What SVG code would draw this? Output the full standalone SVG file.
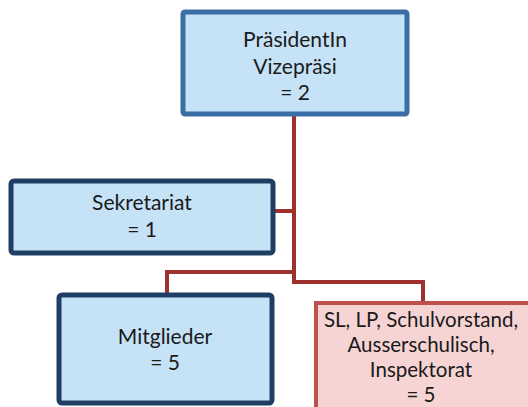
<svg xmlns="http://www.w3.org/2000/svg" width="528" height="407" viewBox="0 0 528 407">
<style>
.blue{fill:#c6e2f6;stroke:#1e3f63;stroke-width:5}
.top{fill:#c6e2f6;stroke:#3a6ea5;stroke-width:5}
.red{fill:#f6d4d4;stroke:#c0504d;stroke-width:4}
.t{font-family:Lato,"Open Sans","DejaVu Sans",sans-serif;font-size:21px;fill:#1a1a1a;text-anchor:middle}
.s{font-size:20.5px}
.c{fill:none;stroke:#a0302e;stroke-width:4}
</style>
<rect width="528" height="407" fill="#ffffff"/>
<g id="connectors">
<path class="c" d="M294 116 V282 H423 V302"/>
<path class="c" d="M275 211 H294"/>
<path class="c" d="M294 272 H167 V293"/>
</g>
<g id="praesident">
<rect class="top" x="183" y="12" width="224" height="102" rx="2"/>
<text class="t" x="295" y="47">PräsidentIn</text>
<text class="t" x="295" y="74">Vizepräsi</text>
<text class="t" x="295" y="100">= 2</text>
</g>
<g id="sekretariat">
<rect class="blue" x="11" y="181" width="262" height="72" rx="3"/>
<text class="t" x="142" y="210">Sekretariat</text>
<text class="t" x="142" y="237">= 1</text>
</g>
<g id="mitglieder">
<rect class="blue" x="59" y="295" width="213" height="108" rx="3"/>
<text class="t" x="165" y="344">Mitglieder</text>
<text class="t" x="165" y="370">= 5</text>
</g>
<g id="sl">
<rect class="red" x="316" y="303" width="230" height="120"/>
<text class="t s" x="421" y="327">SL, LP, Schulvorstand,</text>
<text class="t s" x="421" y="352">Ausserschulisch,</text>
<text class="t s" x="421" y="377">Inspektorat</text>
<text class="t s" x="421" y="402">= 5</text>
</g>
</svg>
